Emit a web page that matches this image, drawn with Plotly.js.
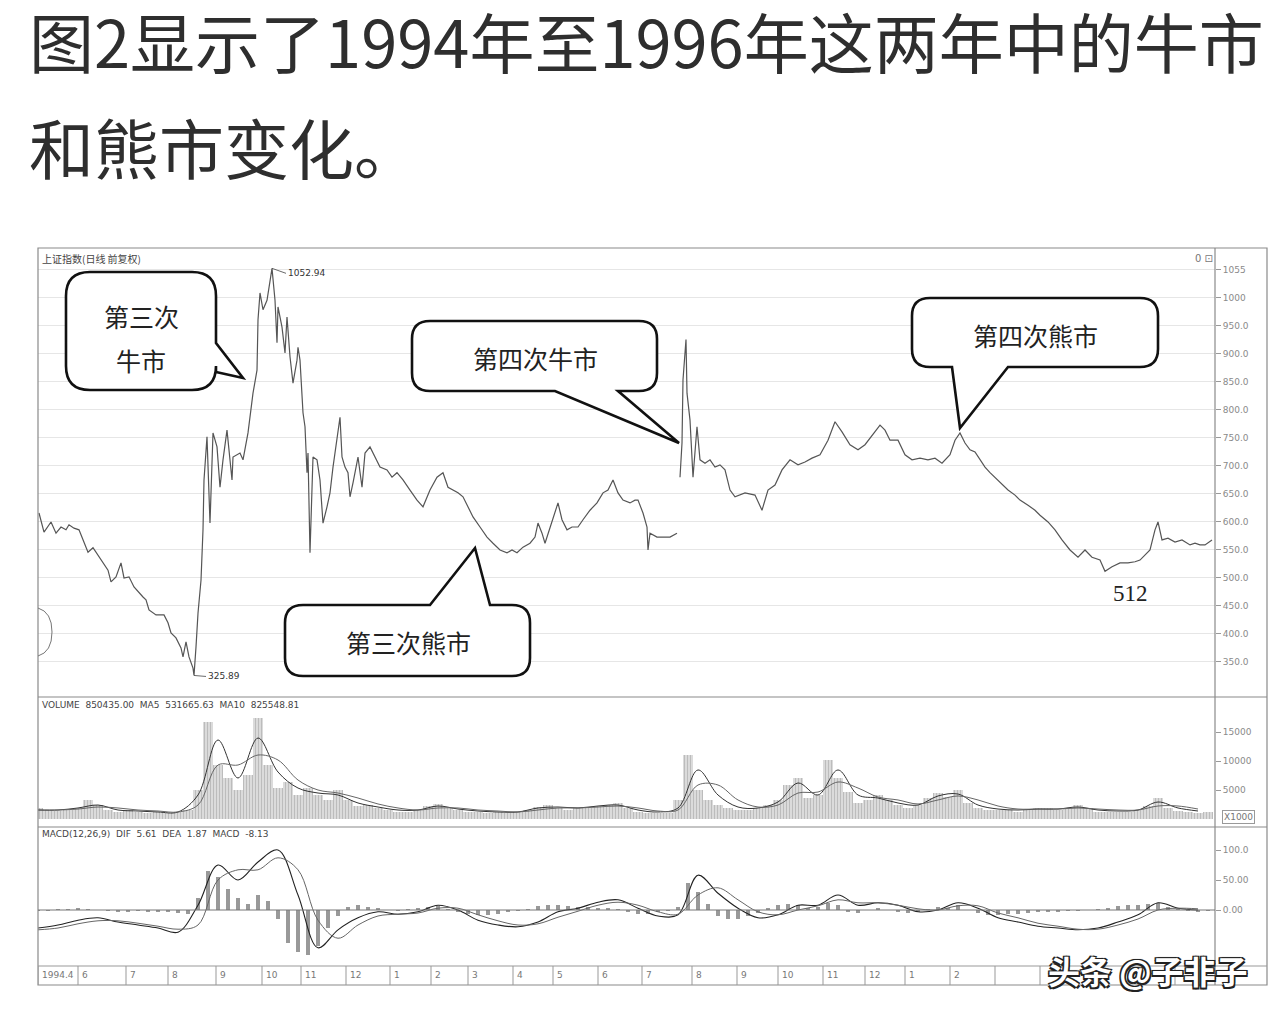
<!DOCTYPE html>
<html><head><meta charset="utf-8">
<script src="https://cdn.plot.ly/plotly-3.0.1.min.js"></script>
<style>html,body{margin:0;padding:0;background:#fff}#chart{width:1280px;height:1018px}</style>
</head><body><div id="chart"></div>
<script>
// ---------- DATA (trading-day index) ----------
const priceDays = [0.4,2.4,5.2,7.2,9.2,11.2,12.4,14.4,16.4,18.4,20,22,24,26,28,29.2,31.2,33.2,34.4,36.4,38.4,42,43.2,44.4,47.2,50.4,52,53.2,55.2,57.2,58,59.2,60.4,62,62.4,
 63.2,64,65.2,66,66.4,67.6,68.8,70,71.6,72.8,74,75.6,77.6,78,80.8,82,84,85.6,86,87.6,88,88.8,90,91.6,92.8,93.6,
 94.8,95.6,96,97.6,98.8,99.6,100.8,102,103.6,104,104.8,106,106.8,107.6,108,108.8,110,111.6,112.8,114,115.6,116.8,118,119.6,120.8,121.6,122.8,124,124.8,126,127.6,128,129.6,130.8,132.8,
 134.8,136.8,139.6,141.6,143.6,146,148.8,151.6,154,156.8,159.6,162,164,166,168,170,172,174,176.8,179.6,182,184.8,187.6,189.6,191.6,194,196.8,198.8,200,201.6,202.8,204.8,206.8,208,209.6,211.6,213.6,216,218,220.8,223.6,226,228,230,232,234,236.8,238.8,240,242,243.6,244,244.8,247.6,250,252.8,255.6,
 256.2,
 256.8,257.6,258,259.2,259.6,260.8,262,263.6,264.8,266.8,268.8,270.8,272.8,274.8,276.8,278.8,282.8,286.8,289.6,292,294.8,297.6,300.8,304,306.8,309.6,312.8,316,318.8,321.6,324.8,328,330.8,333.6,336.8,338.8,340.8,344,346.8,349.6,352.8,356,358.8,361.6,364.8,366.8,368.8,370.8,372.8,374.8,376.8,378.8,380.8,382.8,384.8,388,390.8,392.8,396,398.8,400.8,404,406.8,409.6,412.8,416,418.8,421.6,424.8,426.8,429.6,432.8,436,438.8,440.8,442.8,444.8,446.8,448,449.6,452,454.8,457.6,460.8,462.8,464.8,466.8,469.6];
const priceClose = [616,582,600,580,591,586,595,589,586,564,546,554,541,529,514,493,502,527,500,502,484,466,461,443,434,434,420,402,393,375,359,386,359,339,325.89,
 377,437,496,586,675,752,598,759,734,662,711,764,675,716,723,711,759,812,830,871,961,1009,979,996,1032,1052.94,
 996,920,984,948,902,966,895,848,889,912,889,795,770,688,723,545,716,711,675,598,627,652,698,752,787,716,698,688,645,670,711,716,662,723,734,
 716,698,693,680,688,675,657,639,627,657,680,688,662,657,652,645,627,609,591,573,562,550,545,550,545,555,562,573,598,580,562,591,621,634,604,586,591,591,604,621,634,652,657,675,652,639,634,639,639,616,591,550,580,573,573,573,580,
 null,
 680,741,854,926,830,782,680,770,711,705,711,698,702,693,657,645,652,648,621,657,666,693,711,702,707,714,720,746,779,761,738,729,738,755,773,764,746,746,720,711,714,711,714,705,720,746,759,741,729,725,711,698,688,679,670,657,648,639,630,621,612,600,586,568,550,537,550,537,532,512,520,527,527,529,532,541,550,586,600,568,571,564,568,559,562,559,559,568];

// volume (x1000), one bar every 4 trading days
const volume = [1900,1550,1400,1550,1900,3300,2400,1550,1200,1550,1200,1000,1200,1000,1200,1550,5000,16700,9300,7000,5000,7600,17400,9300,5300,6400,4100,5300,4100,3300,5000,3300,2200,2400,1900,1550,1200,1200,1550,2200,2600,1900,1550,1200,1200,1000,1200,1000,1200,1550,2100,2400,1900,1550,1900,1900,2200,2400,2800,1900,1200,1000,1000,1000,3300,11000,5000,3300,2400,1900,1550,1550,1900,2400,3300,5900,7100,3600,4100,10200,7100,4650,2800,3300,4100,3300,2400,1900,2400,3600,4500,3800,5000,2800,1900,1550,1550,1550,1200,1550,1900,1900,1550,1900,2400,1900,1200,1200,1200,1200,1550,2200,3600,1900,1400,1200,1000,1200];
// MACD histogram, same 4-day grid
const macdHist = [-2,-1,1,2,3,2,0,-2,-3,-3,-2,-3,-4,-4,-5,-6,20,65,55,35,20,10,25,15,-15,-55,-70,-75,-60,-30,-10,5,8,5,3,0,-2,2,3,5,6,2,-3,-6,-8,-8,-6,-4,-2,2,6,8,8,6,5,5,4,3,2,-4,-6,-6,-4,-2,5,45,30,10,-10,-15,-15,-10,-5,3,8,10,8,3,5,12,8,-3,-5,0,3,0,-3,-5,-3,2,5,4,8,0,-5,-8,-8,-7,-6,-5,-4,-3,-3,-2,-1,0,2,4,6,8,8,10,12,5,2,-2,-3,-2];
// moving averages and MACD lines, one value every 8 trading days
const volMA5 = [1550,1550,1900,2410,1550,1380,1210,1210,4140,13620,7070,13960,8100,5340,4480,4140,2760,2070,1550,1550,2240,1720,1380,1210,1210,1900,2070,1900,2240,2410,1550,1210,1900,8450,4140,2070,1900,2930,6210,4140,8450,4140,3620,2760,2410,3970,4310,2410,1720,1550,1720,1720,2070,1550,1380,1550,2930,1900,1380];
const volMA10 = [1550,1550,1720,2070,1900,1550,1380,1210,2410,9310,9310,11030,10170,6720,5000,4480,3620,2590,1900,1550,1900,1900,1550,1380,1210,1550,1900,1900,2070,2240,1900,1380,1550,5860,5860,3280,2070,2410,4480,4650,6380,5340,3790,3280,2590,3280,3970,3280,2240,1720,1720,1720,1900,1720,1550,1550,2240,2240,1720];
const macdDIF = [-30,-25,-17,-13,-20,-25,-30,-37,8,75,50,80,100,25,-63,-33,-13,-3,-7,-3,8,0,-17,-25,-28,-20,-3,3,13,17,3,-10,-8,58,28,3,-13,-8,8,8,25,8,12,8,-3,0,12,3,-13,-20,-27,-30,-33,-30,-20,-8,12,3,0];
const macdDEA = [-33,-30,-23,-18,-18,-22,-27,-32,-25,50,67,67,87,67,-17,-47,-25,-10,-7,-5,3,3,-8,-18,-25,-23,-12,-2,8,13,8,-3,-7,25,37,17,-3,-8,0,7,17,12,12,8,2,0,7,7,-5,-13,-22,-27,-32,-32,-25,-15,0,3,2];

const priceTickVals = [1050,1000,950,900,850,800,750,700,650,600,550,500,450,400,350];
const priceTickText = ["1055","1000","950.0","900.0","850.0","800.0","750.0","700.0","650.0","600.0","550.0","500.0","450.0","400.0","350.0"];
const volTickVals = [15000,10000,5000];
const volTickText = ["15000","10000","5000"];
const macdTickVals = [100,50,0];
const macdTickText = ["100.0","50.00","0.00"];
const dateTickDays = [0,16,35.2,52,71.2,89.6,105.2,123.2,140.8,157.2,172,190,206,224,241.6,261.6,279.6,296,314,330.8,346.8,364.8,382.8,400.8,418.8,436.8,454.8];
// labels beyond "2" are hidden under the watermark in the picture
const dateTickText = ["1994.4","6","7","8","9","10","11","12","1","2","3","4","5","6","7","8","9","10","11","12","1","2","","","","",""];

// ---------- LAYOUT HELPERS ----------
const W = 1280, H = 1018;
const PX = x => x / W, PY = y => 1 - y / H;
const sampleDays = volume.map((_, i) => i * 4);
const maDays = volMA5.map((_, i) => i * 8);
const CJK = '"Noto Sans CJK SC", "Noto Sans", sans-serif';

function bubble(x0, y0, x1, y1, r, edge, a, b, tx, ty) {
  const P = (x, y) => PX(x).toFixed(5) + ',' + PY(y).toFixed(5);
  let d = 'M' + P(x0 + r, y0);
  if (edge === 'top') d += ' L' + P(a, y0) + ' L' + P(tx, ty) + ' L' + P(b, y0);
  d += ' L' + P(x1 - r, y0) + ' Q' + P(x1, y0) + ' ' + P(x1, y0 + r);
  if (edge === 'right') d += ' L' + P(x1, a) + ' L' + P(tx, ty) + ' L' + P(x1, b);
  d += ' L' + P(x1, y1 - r) + ' Q' + P(x1, y1) + ' ' + P(x1 - r, y1);
  if (edge === 'bottom') d += ' L' + P(b, y1) + ' L' + P(tx, ty) + ' L' + P(a, y1);
  d += ' L' + P(x0 + r, y1) + ' Q' + P(x0, y1) + ' ' + P(x0, y1 - r);
  d += ' L' + P(x0, y0 + r) + ' Q' + P(x0, y0) + ' ' + P(x0 + r, y0) + ' Z';
  return {type: 'path', xref: 'paper', yref: 'paper', path: d, fillcolor: '#ffffff',
          line: {color: '#111', width: 2.6}, layer: 'above'};
}

// ---------- TRACES ----------
const traces = [
  {type: 'scatter', mode: 'lines', x: priceDays, y: priceClose, xaxis: 'x', yaxis: 'y',
   line: {color: '#555', width: 1.2}, connectgaps: false, hoverinfo: 'skip'},
  {type: 'bar', x: sampleDays, y: volume, xaxis: 'x', yaxis: 'y2', width: 4,
   marker: {color: '#ffffff', line: {width: 0},
            pattern: {shape: '|', fgcolor: '#7a7a7a', bgcolor: '#ffffff', size: 3, solidity: 0.7, fillmode: 'overlay'}},
   hoverinfo: 'skip'},
  {type: 'scatter', mode: 'lines', x: maDays, y: volMA5, xaxis: 'x', yaxis: 'y2',
   line: {color: '#333', width: 1, shape: 'spline'}, hoverinfo: 'skip'},
  {type: 'scatter', mode: 'lines', x: maDays, y: volMA10, xaxis: 'x', yaxis: 'y2',
   line: {color: '#666', width: 1, shape: 'spline'}, hoverinfo: 'skip'},
  {type: 'bar', x: sampleDays, y: macdHist, xaxis: 'x', yaxis: 'y3', width: 1.4,
   marker: {color: '#999', line: {width: 0}}, hoverinfo: 'skip'},
  {type: 'scatter', mode: 'lines', x: maDays, y: macdDIF, xaxis: 'x', yaxis: 'y3',
   line: {color: '#222', width: 1.1, shape: 'spline'}, hoverinfo: 'skip'},
  {type: 'scatter', mode: 'lines', x: maDays, y: macdDEA, xaxis: 'x', yaxis: 'y3',
   line: {color: '#666', width: 1, shape: 'spline'}, hoverinfo: 'skip'}
];

const axisFont = {family: 'DejaVu Sans, sans-serif', size: 9, color: '#8a8a8a'};
const yCommon = {side: 'right', anchor: 'x', tickmode: 'array', ticks: 'outside', ticklen: 5,
  tickcolor: '#999', tickfont: axisFont, showline: false, zeroline: false, fixedrange: true,
  gridcolor: '#e6e6e6', gridwidth: 1};

const shapes = [
  {type: 'rect', xref: 'paper', yref: 'paper', x0: PX(38), x1: PX(1267), y0: PY(248), y1: PY(985), line: {color: '#8a8a8a', width: 1.2}},
  {type: 'line', xref: 'paper', yref: 'paper', x0: PX(1215), x1: PX(1215), y0: PY(248), y1: PY(985), line: {color: '#8a8a8a', width: 1.2}},
  {type: 'line', xref: 'paper', yref: 'paper', x0: PX(38), x1: PX(1267), y0: PY(697), y1: PY(697), line: {color: '#8a8a8a', width: 1.2}},
  {type: 'line', xref: 'paper', yref: 'paper', x0: PX(38), x1: PX(1267), y0: PY(827), y1: PY(827), line: {color: '#8a8a8a', width: 1.2}},
  {type: 'line', xref: 'paper', yref: 'paper', x0: PX(38), x1: PX(1267), y0: PY(966), y1: PY(966), line: {color: '#999', width: 1}},
  {type: 'line', xref: 'paper', yref: 'y3', x0: PX(38), x1: PX(1215), y0: 0, y1: 0, line: {color: '#777', width: 1}},
  {type: 'path', xref: 'paper', yref: 'paper',
   path: 'M' + PX(38) + ',' + PY(608) + ' Q' + PX(52) + ',' + PY(612) + ' ' + PX(52) + ',' + PY(632) + ' Q' + PX(52) + ',' + PY(652) + ' ' + PX(38) + ',' + PY(656),
   line: {color: '#777', width: 1}},
  bubble(66, 272, 216, 390, 24, 'right', 343, 372, 243, 378),
  bubble(412, 321, 657, 391, 18, 'bottom', 555, 618, 679, 443),
  bubble(285, 605, 530, 676, 18, 'top', 430, 490, 475, 548),
  bubble(912, 298, 1158, 367, 18, 'bottom', 952, 1008, 960, 428)
];
dateTickDays.forEach(d => shapes.push({type: 'line', xref: 'x', yref: 'paper', x0: d, x1: d,
  y0: PY(966), y1: PY(985), line: {color: '#999', width: 1}}));

const ann = (x, y, text, size, opts) => Object.assign({xref: 'paper', yref: 'paper', x: PX(x), y: PY(y),
  text: text, showarrow: false, xanchor: 'left', yanchor: 'middle',
  font: {family: CJK, size: size, color: '#333'}}, opts || {});

const annotations = [
  ann(28, 40, '图2显示了1994年至1996年这两年中的牛市', 65, {borderpad: 0, font: {family: CJK, size: 65, color: '#2e2e2e'}}),
  ann(28, 146, '和熊市变化。', 65, {borderpad: 0, font: {family: CJK, size: 65, color: '#2e2e2e'}}),
  ann(40, 258, '上证指数(日线 前复权)', 10, {font: {family: CJK, size: 10, color: '#444'}}),
  ann(1193, 258, '0 ⊡', 10, {font: {family: 'DejaVu Sans', size: 10, color: '#777'}}),
  ann(40, 705, 'VOLUME  850435.00  MA5  531665.63  MA10  825548.81', 9, {font: {family: 'DejaVu Sans', size: 9, color: '#444'}}),
  ann(40, 834, 'MACD(12,26,9)  DIF  5.61  DEA  1.87  MACD  -8.13', 9, {font: {family: 'DejaVu Sans', size: 9, color: '#444'}}),
  ann(1222, 817, 'X1000', 9, {font: {family: 'DejaVu Sans', size: 9, color: '#777'}, bordercolor: '#999', borderwidth: 1, borderpad: 1}),
  ann(141, 316, '第三次', 25, {xanchor: 'center', font: {family: CJK, size: 25, color: '#222'}}),
  ann(141, 360, '牛市', 25, {xanchor: 'center', font: {family: CJK, size: 25, color: '#222'}}),
  ann(535, 358, '第四次牛市', 25, {xanchor: 'center', font: {family: CJK, size: 25, color: '#222'}}),
  ann(408, 642, '第三次熊市', 25, {xanchor: 'center', font: {family: CJK, size: 25, color: '#222'}}),
  ann(1035, 335, '第四次熊市', 25, {xanchor: 'center', font: {family: CJK, size: 25, color: '#222'}}),
  ann(1130, 593, '512', 23, {xanchor: 'center', font: {family: 'Liberation Serif, serif', size: 23, color: '#222'}}),
  {xref: 'x', yref: 'y', x: 93.6, y: 1052.94, text: '1052.94', showarrow: true, arrowhead: 0, arrowwidth: 0.8,
   arrowcolor: '#444', ax: 14, ay: 5, xanchor: 'left', yanchor: 'middle', standoff: 0,
   font: {family: 'DejaVu Sans', size: 9, color: '#333'}},
  {xref: 'x', yref: 'y', x: 62.4, y: 325.89, text: '325.89', showarrow: true, arrowhead: 0, arrowwidth: 0.8,
   arrowcolor: '#444', ax: 12, ay: 1, xanchor: 'left', yanchor: 'middle', standoff: 0,
   font: {family: 'DejaVu Sans', size: 9, color: '#333'}},
  {xref: 'paper', yref: 'paper', x: PX(1148), y: PY(970), text: '头条 @子非子', showarrow: false,
   xanchor: 'center', yanchor: 'middle',
   font: {family: CJK, size: 32, color: '#ffffff', weight: 700,
          shadow: '-1.5px -1.5px 0 #222, 1.5px -1.5px 0 #222, -1.5px 1.5px 0 #222, 1.5px 1.5px 0 #222, 0 0 2px #222'}}
];
dateTickDays.forEach((d, i) => { if (dateTickText[i]) annotations.push({xref: 'x', yref: 'paper', x: d, y: PY(975),
  text: dateTickText[i], showarrow: false, xanchor: 'left', yanchor: 'middle', xshift: 2,
  font: {family: 'DejaVu Sans', size: 9, color: '#777'}}); });

const layout = {
  width: W, height: H, margin: {l: 0, r: 0, t: 0, b: 0},
  paper_bgcolor: '#ffffff', plot_bgcolor: 'rgba(0,0,0,0)', showlegend: false,
  barmode: 'overlay', bargap: 0,
  xaxis: {domain: [PX(38), PX(1215)], range: [0, 470.8], anchor: 'y3', showgrid: false,
          zeroline: false, showline: false, showticklabels: false, ticks: '', fixedrange: true},
  yaxis: Object.assign({}, yCommon, {domain: [PY(695), PY(250)], range: [291, 1085.7],
          tickvals: priceTickVals, ticktext: priceTickText}),
  yaxis2: Object.assign({}, yCommon, {domain: [PY(825), PY(699)], range: [-1034, 20690],
          tickvals: volTickVals, ticktext: volTickText, showgrid: false}),
  yaxis3: Object.assign({}, yCommon, {domain: [PY(963), PY(829)], range: [-88.3, 135],
          tickvals: macdTickVals, ticktext: macdTickText, showgrid: false}),
  shapes: shapes, annotations: annotations
};

Plotly.newPlot('chart', traces, layout, {staticPlot: true, displayModeBar: false});
</script></body></html>
